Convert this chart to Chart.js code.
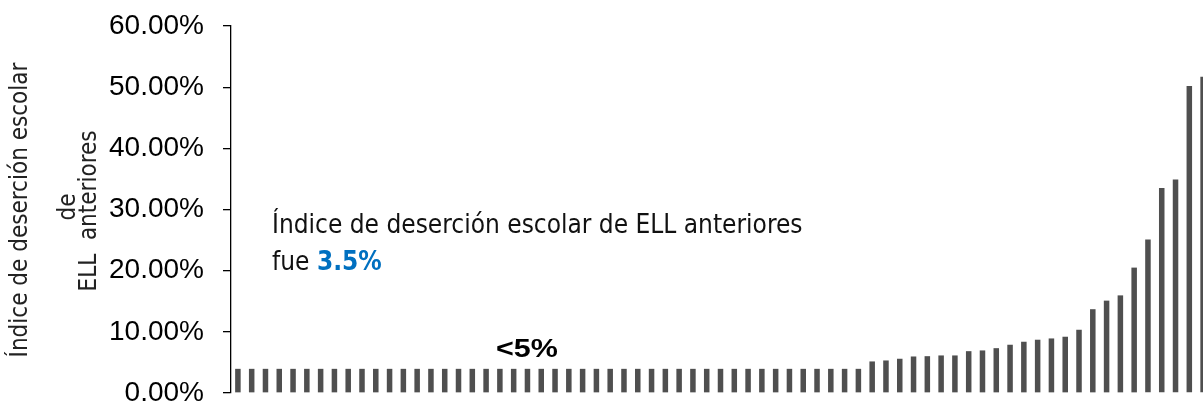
<!DOCTYPE html>
<html>
<head>
<meta charset="utf-8">
<script src="https://cdn.jsdelivr.net/npm/chart.js@4.4.1/dist/chart.umd.min.js"></script>
<style>
  html, body { margin: 0; padding: 0; background: #ffffff; overflow: hidden; width: 1203px; height: 403px; }
  #wrap { position: relative; width: 1210px; height: 403px; }
</style>
</head>
<body>
<div id="wrap"><canvas id="c" width="1210" height="403"></canvas></div>
<script>
// ---- Data ----
const categories = ['1','2','3','4','5','6','7','8','9','10','11','12','13','14','15','16','17','18','19','20',
  '21','22','23','24','25','26','27','28','29','30','31','32','33','34','35','36','37','38','39','40',
  '41','42','43','44','45','46','47','48','49','50','51','52','53','54','55','56','57','58','59','60',
  '61','62','63','64','65','66','67','68','69','70','71'];
const dropoutRates = [
  3.95,3.95,3.95,3.95,3.95,3.95,3.95,3.95,3.95,3.95,
  3.95,3.95,3.95,3.95,3.95,3.95,3.95,3.95,3.95,3.95,
  3.95,3.95,3.95,3.95,3.95,3.95,3.95,3.95,3.95,3.95,
  3.95,3.95,3.95,3.95,3.95,3.95,3.95,3.95,3.95,3.95,
  3.95,3.95,3.95,3.95,3.95,3.95,
  5.16,5.32,5.6,5.97,6.02,6.14,6.14,6.84,6.96,7.33,
  7.89,8.38,8.71,8.92,9.2,10.34,13.7,15.1,15.96,20.5,
  25.1,33.5,34.9,50.2,51.7
];
const yTicks = [0, 10, 20, 30, 40, 50, 60];
const yTitleLines = ['Índice de deserción escolar', 'de', 'ELL  anteriores'];
const noteLine1 = 'Índice de deserción escolar de ELL anteriores';
const noteLine2a = 'fue ';
const noteLine2b = '3.5%';
const maskLabel = '<5%';

const NARROW = "'Liberation Sans Narrow', 'Arial Narrow', 'DejaVu Sans Condensed', sans-serif";
const SANS = "'Liberation Sans', Arial, sans-serif";

const textPlugin = {
  id: 'texts',
  afterDraw(chart) {
    const ctx = chart.ctx;
    const ca = chart.chartArea;
    ctx.save();
    // Y axis title (rotated)
    ctx.fillStyle = '#222222';
    ctx.font = '24px ' + NARROW;
    ctx.textAlign = 'center';
    ctx.textBaseline = 'middle';
    const titleX = [21, 69, 90];
    const titleY = [210, 207, 211];
    for (let i = 0; i < yTitleLines.length; i++) {
      ctx.save();
      ctx.translate(titleX[i], titleY[i]);
      ctx.rotate(-Math.PI / 2);
      ctx.fillText(yTitleLines[i], 0, 0);
      ctx.restore();
    }
    // Note text
    ctx.textAlign = 'left';
    ctx.textBaseline = 'alphabetic';
    ctx.font = '26px ' + NARROW;
    ctx.fillStyle = '#111111';
    ctx.fillText(noteLine1, ca.left + 41, 233);
    ctx.fillText(noteLine2a, ca.left + 41, 270);
    const w = ctx.measureText(noteLine2a).width;
    ctx.font = 'bold 26px ' + NARROW;
    ctx.fillStyle = '#0070C0';
    ctx.fillText(noteLine2b, ca.left + 41 + w, 270);
    // <5% label
    ctx.font = 'bold 25px ' + SANS;
    ctx.fillStyle = '#000000';
    ctx.textAlign = 'center';
    ctx.save();
    ctx.translate(ca.left + 296, 357);
    ctx.scale(1.22, 1);
    ctx.fillText(maskLabel, 0, 0);
    ctx.restore();
    ctx.restore();
  }
};

new Chart(document.getElementById('c'), {
  type: 'bar',
  data: {
    labels: categories,
    datasets: [{
      data: dropoutRates,
      backgroundColor: '#4f4f4f',
      borderWidth: 0,
      barPercentage: 0.4,
      categoryPercentage: 1.0
    }]
  },
  options: {
    responsive: false,
    animation: false,
    layout: { padding: { top: 26, bottom: 10, left: 0, right: 0 } },
    plugins: { legend: { display: false }, tooltip: { enabled: false }, title: { display: false } },
    scales: {
      x: { display: false, offset: true },
      y: {
        min: 0, max: 60,
        afterBuildTicks(scale) { scale.ticks = yTicks.map(v => ({ value: v })); },
        afterFit(scale) { scale.width = 231; scale.paddingTop = 0; scale.paddingBottom = 0; },
        border: { display: true, color: '#000000', width: 1.3 },
        grid: { display: true, drawOnChartArea: false, drawTicks: true, tickLength: 8, color: '#000000', lineWidth: 1.3 },
        ticks: {
          padding: 19,
          color: '#000000',
          font: { family: SANS, size: 28 },
          callback: v => v.toFixed(2) + '%'
        }
      }
    }
  },
  plugins: [textPlugin]
});
</script>
</body>
</html>
